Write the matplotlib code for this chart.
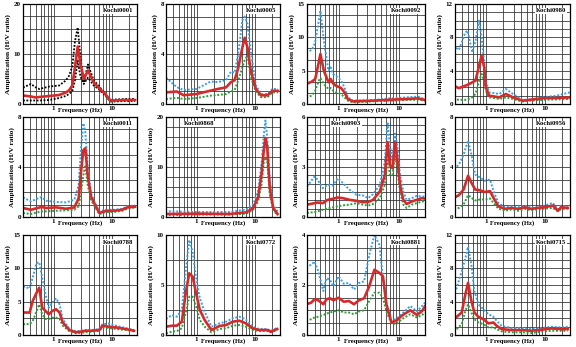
""" H/V spectral ratio panels for twelve Kochi stations (mean and +/- one std). """
import matplotlib
matplotlib.use('Agg')
import matplotlib.pyplot as plt
from matplotlib.ticker import FixedLocator, NullFormatter, LogLocator
import numpy as np

plt.rcParams['font.family'] = ['Liberation Serif', 'DejaVu Serif']
plt.rcParams['font.weight'] = 'bold'

# ---- data (frequency in Hz, amplification) ----
freq_0001 = [0.3, 0.41, 0.5, 0.57, 0.85, 1.25, 1.62, 1.84, 2.1, 2.33, 2.6, 2.9, 3.3, 3.9, 4.9, 5.9, 7.7, 9.4, 11.4, 17, 25]
mean_0001 = [1.7, 1.5, 1.3, 1.4, 1.6, 1.8, 2.3, 2.7, 3.7, 7.3, 11.5, 8.0, 5.0, 6.7, 4.3, 3.3, 2.0, 0.7, 0.7, 0.8, 0.8]
upper_0001 = [3.3, 4.0, 3.3, 3.0, 3.5, 3.7, 4.7, 5.6, 7.5, 12.5, 15.3, 9.3, 4.3, 7.9, 4.7, 3.7, 2.0, 0.8, 0.9, 1.0, 1.0]
lower_0001 = [0.7, 0.7, 0.7, 0.7, 0.8, 1.2, 1.6, 2.0, 2.6, 4.7, 8.7, 5.5, 4.0, 5.3, 3.7, 3.0, 1.7, 0.5, 0.5, 0.6, 0.6]

freq_0005 = [0.3, 0.46, 0.6, 1.0, 1.75, 2.3, 3.2, 3.9, 4.5, 5.2, 6.1, 6.7, 7.5, 8.5, 10.4, 12.7, 16.5, 20, 25]
mean_0005 = [0.93, 1.0, 0.7, 0.8, 1.07, 1.2, 1.33, 1.75, 1.9, 2.9, 4.5, 5.3, 4.5, 2.7, 1.2, 0.7, 0.7, 1.05, 1.05]
upper_0005 = [2.1, 1.35, 1.12, 1.2, 1.8, 1.75, 1.9, 2.6, 2.5, 4.0, 6.7, 7.0, 6.4, 4.3, 1.5, 0.8, 0.8, 1.2, 1.2]
lower_0005 = [0.4, 0.5, 0.4, 0.48, 0.67, 0.72, 0.8, 1.0, 1.12, 1.9, 2.9, 3.5, 3.9, 2.2, 1.0, 0.55, 0.55, 0.93, 0.93]

freq_0092 = [0.29, 0.36, 0.41, 0.47, 0.5, 0.57, 0.68, 0.74, 0.81, 0.9, 1.1, 1.25, 1.42, 1.73, 3.8, 7.2, 13.8, 20.5, 27]
mean_0092 = [3.0, 3.35, 3.75, 6.25, 7.5, 5.0, 3.25, 3.75, 3.1, 2.75, 2.4, 1.75, 0.75, 0.4, 0.5, 0.65, 0.75, 0.85, 0.6]
upper_0092 = [7.75, 8.1, 9.25, 12.5, 14.0, 9.5, 5.0, 5.5, 4.5, 4.25, 3.5, 2.5, 1.0, 0.5, 0.6, 0.85, 1.0, 1.1, 0.7]
lower_0092 = [1.0, 1.25, 2.0, 3.5, 3.9, 3.0, 2.25, 2.4, 2.0, 1.75, 1.5, 1.0, 0.5, 0.25, 0.4, 0.5, 0.6, 0.65, 0.5]

freq_0980 = [0.28, 0.35, 0.45, 0.49, 0.59, 0.67, 0.77, 0.85, 0.94, 1.0, 1.14, 1.7, 2.2, 2.9, 4.2, 5.5, 9.4, 16, 27]
mean_0980 = [2.2, 1.9, 2.2, 2.3, 2.6, 2.8, 4.6, 5.8, 4.4, 2.0, 1.0, 0.8, 1.2, 0.8, 0.4, 0.5, 0.7, 0.72, 0.8]
upper_0980 = [7.0, 6.5, 8.6, 8.8, 6.2, 7.6, 10.0, 8.0, 5.0, 2.8, 1.4, 1.2, 1.8, 1.2, 0.5, 0.5, 0.8, 1.0, 1.4]
lower_0980 = [0.6, 0.5, 0.5, 0.55, 0.8, 1.2, 2.8, 3.6, 2.8, 1.6, 0.8, 0.6, 0.8, 0.6, 0.3, 0.4, 0.5, 0.55, 0.6]

freq_0011 = [0.3, 0.41, 0.62, 0.75, 1.11, 1.64, 2.28, 2.7, 2.96, 3.25, 3.51, 3.85, 4.39, 5.0, 6.1, 7.9, 11, 15, 18.5, 25]
mean_0011 = [0.72, 0.58, 0.8, 0.72, 0.77, 0.66, 0.77, 1.5, 3.6, 5.35, 5.5, 3.36, 1.64, 1.1, 0.32, 0.5, 0.5, 0.58, 0.77, 0.82]
upper_0011 = [1.56, 1.25, 1.6, 1.3, 1.2, 1.17, 1.38, 2.57, 5.5, 7.5, 6.8, 4.16, 1.9, 1.25, 0.45, 0.58, 0.58, 0.66, 0.85, 0.93]
lower_0011 = [0.32, 0.24, 0.45, 0.45, 0.5, 0.53, 0.58, 0.85, 2.0, 3.36, 4.16, 2.57, 1.38, 0.9, 0.24, 0.4, 0.4, 0.5, 0.66, 0.77]

freq_0868 = [0.29, 1.0, 3.7, 7.2, 9.4, 11.4, 13.0, 14.3, 15.2, 16.3, 18.0, 20.6, 24.5]
mean_0868 = [0.6, 0.67, 0.6, 0.94, 1.8, 4.0, 8.5, 13.6, 15.8, 14.0, 5.9, 1.8, 0.6]
upper_0868 = [1.15, 1.0, 1.0, 1.5, 2.5, 5.2, 10.6, 16.6, 19.3, 16.0, 7.2, 2.5, 1.15]
lower_0868 = [0.34, 0.47, 0.47, 0.67, 1.5, 3.2, 6.5, 11.2, 11.9, 11.2, 4.5, 1.5, 0.34]

freq_0903 = [0.3, 0.4, 0.45, 0.55, 0.66, 0.8, 0.97, 1.18, 1.52, 1.97, 2.54, 3.08, 3.73, 4.82, 5.84, 6.47,
             7.08, 7.84, 8.58, 9.38, 10.4, 11.8, 13.4, 16.3, 19.7, 23.9, 27]
mean_0903 = [0.74, 0.83, 0.87, 0.83, 1.03, 1.09, 1.17, 1.13, 1.03, 0.97, 0.89, 0.89, 1.03, 1.53, 2.52, 4.5,
             3.12, 2.92, 4.5, 3.52, 1.93, 1.03, 0.78, 0.93, 1.03, 1.13, 1.1]
upper_0903 = [1.83, 2.43, 2.23, 1.73, 1.93, 1.89, 2.33, 2.03, 1.63, 1.33, 1.29, 1.13, 1.37, 1.93, 3.32, 5.7,
              4.3, 3.32, 5.0, 4.3, 2.5, 1.53, 1.03, 1.13, 1.27, 1.23, 1.23]
lower_0903 = [0.24, 0.3, 0.34, 0.44, 0.5, 0.58, 0.64, 0.7, 0.74, 0.83, 0.74, 0.68, 0.78, 1.13, 1.93, 3.52,
              2.52, 2.52, 3.72, 2.92, 1.53, 0.74, 0.54, 0.74, 0.83, 0.93, 0.95]

freq_0956 = [0.29, 0.35, 0.42, 0.5, 0.57, 0.66, 0.8, 0.97, 1.18, 1.35, 1.63, 2.12, 2.74, 3.55, 4.6, 5.96,
             7.7, 10, 13.8, 16.8, 19.1, 24.7]
mean_0956 = [1.54, 1.75, 2.2, 3.3, 2.75, 2.2, 2.13, 2.0, 2.07, 1.54, 0.86, 0.65, 0.73, 0.65, 0.78, 0.65,
             0.73, 0.78, 0.92, 0.5, 0.78, 0.73]
upper_0956 = [3.83, 4.2, 5.0, 6.1, 5.0, 3.4, 3.15, 2.9, 3.0, 2.1, 1.13, 0.78, 0.86, 0.78, 0.92, 0.73,
              0.78, 0.92, 1.13, 0.6, 0.92, 0.8]
lower_0956 = [0.6, 0.73, 1.0, 1.75, 1.54, 1.32, 1.4, 1.4, 1.48, 1.13, 0.67, 0.5, 0.6, 0.5, 0.65, 0.54,
              0.62, 0.67, 0.73, 0.46, 0.65, 0.65]

freq_0788 = [0.3, 0.39, 0.44, 0.51, 0.57, 0.64, 0.73, 0.83, 0.95, 1.11, 1.27, 1.44, 1.87, 2.43, 3.6, 4.68,
             6.08, 6.93, 9.0, 11.7, 17.3, 24]
mean_0788 = [3.37, 3.37, 5.1, 6.3, 7.1, 4.1, 3.6, 3.1, 3.6, 3.86, 3.37, 1.88, 0.75, 0.4, 0.64, 0.64,
             0.75, 1.4, 1.24, 1.14, 0.9, 0.64]
upper_0788 = [7.3, 7.0, 8.6, 10.8, 10.9, 8.6, 6.1, 4.1, 4.85, 5.5, 4.6, 2.4, 0.9, 0.55, 0.75, 0.75,
              0.9, 1.63, 1.73, 1.4, 1.04, 0.75]
lower_0788 = [1.63, 1.63, 2.1, 3.5, 4.6, 3.1, 2.4, 2.4, 2.6, 2.6, 2.4, 1.4, 0.55, 0.25, 0.4, 0.5,
              0.64, 1.14, 1.04, 0.9, 0.75, 0.55]

freq_0772 = [0.3, 0.38, 0.46, 0.56, 0.66, 0.75, 0.86, 0.97, 1.14, 1.38, 1.8, 2.48, 3.22, 4.18, 5.43, 7.0,
             9.1, 11.8, 16.4, 18.7, 24.2]
mean_0772 = [0.83, 0.93, 0.93, 1.33, 4.33, 6.17, 5.83, 4.33, 2.5, 1.5, 0.5, 0.9, 1.0, 1.33, 1.43, 1.17,
             0.67, 0.5, 0.5, 0.33, 0.6]
upper_0772 = [1.6, 2.0, 1.83, 2.5, 6.67, 9.5, 8.3, 6.0, 3.67, 2.33, 0.83, 1.17, 1.33, 1.67, 1.83, 1.57,
              0.83, 0.6, 0.6, 0.4, 0.73]
lower_0772 = [0.17, 0.33, 0.4, 0.67, 2.33, 3.83, 3.83, 3.0, 1.5, 0.83, 0.27, 0.6, 0.67, 0.93, 1.0, 0.83,
              0.5, 0.4, 0.4, 0.27, 0.5]

freq_0881 = [0.29, 0.35, 0.4, 0.46, 0.56, 0.63, 0.72, 0.82, 1.0, 1.22, 1.48, 1.8, 2.18, 2.65, 3.22, 3.92,
             4.76, 5.43, 6.18, 7.5, 9.1, 11.1, 15.4, 19.9, 24.2, 27]
mean_0881 = [1.23, 1.29, 1.43, 1.39, 1.23, 1.43, 1.47, 1.39, 1.49, 1.33, 1.36, 1.23, 1.39, 1.47, 1.95, 2.61,
             2.48, 2.35, 1.23, 0.5, 0.57, 0.77, 0.99, 0.8, 0.96, 1.15]
upper_0881 = [2.7, 2.81, 2.94, 2.55, 1.76, 2.28, 2.2, 1.95, 2.35, 2.05, 2.08, 1.82, 2.08, 2.15, 3.2, 4.0,
              3.6, 2.28, 1.3, 0.57, 0.66, 0.83, 1.16, 0.94, 1.16, 1.3]
lower_0881 = [0.57, 0.63, 0.7, 0.73, 0.8, 0.86, 0.9, 0.94, 0.99, 0.9, 0.9, 0.83, 0.94, 0.99, 1.36, 1.69,
              1.69, 1.49, 0.96, 0.46, 0.44, 0.63, 0.83, 0.7, 0.8, 0.9]

freq_0715 = [0.28, 0.32, 0.39, 0.45, 0.5, 0.57, 0.64, 0.75, 0.91, 1.11, 1.35, 1.53, 1.86, 2.74, 4.04, 5.96,
             8.8, 12.9, 19.1, 24.7]
mean_0715 = [1.9, 2.18, 2.7, 4.87, 6.26, 4.08, 2.7, 2.18, 1.9, 1.39, 1.5, 1.1, 0.71, 0.59, 0.59, 0.51,
             0.63, 0.79, 0.71, 0.71]
upper_0715 = [4.67, 5.66, 7.64, 9.2, 10.6, 8.4, 5.27, 3.68, 3.09, 2.5, 2.18, 1.7, 1.1, 0.83, 0.83, 0.71,
              0.83, 0.99, 0.91, 0.99]
lower_0715 = [0.51, 0.71, 1.3, 2.9, 3.68, 2.7, 1.9, 1.5, 1.3, 0.91, 0.91, 0.71, 0.44, 0.32, 0.32, 0.24,
              0.4, 0.51, 0.51, 0.51]

stations = ['0001', '0005', '0092', '0980',
            '0011', '0868', '0903', '0956',
            '0788', '0772', '0881', '0715']
series = {
    '0001': (freq_0001, mean_0001, upper_0001, lower_0001),
    '0005': (freq_0005, mean_0005, upper_0005, lower_0005),
    '0092': (freq_0092, mean_0092, upper_0092, lower_0092),
    '0980': (freq_0980, mean_0980, upper_0980, lower_0980),
    '0011': (freq_0011, mean_0011, upper_0011, lower_0011),
    '0868': (freq_0868, mean_0868, upper_0868, lower_0868),
    '0903': (freq_0903, mean_0903, upper_0903, lower_0903),
    '0956': (freq_0956, mean_0956, upper_0956, lower_0956),
    '0788': (freq_0788, mean_0788, upper_0788, lower_0788),
    '0772': (freq_0772, mean_0772, upper_0772, lower_0772),
    '0881': (freq_0881, mean_0881, upper_0881, lower_0881),
    '0715': (freq_0715, mean_0715, upper_0715, lower_0715),
}
# y axis: (max, labelled step, grid step)
y_axes = {
    '0001': (20, 10, 2.5), '0005': (8, 4, 1), '0092': (15, 5, 5 / 3), '0980': (12, 4, 1),
    '0011': (8, 4, 1), '0868': (20, 10, 2), '0903': (6, 3, 0.5), '0956': (8, 4, 1),
    '0788': (15, 5, 2.5), '0772': (10, 5, 2.5), '0881': (4, 2, 0.5), '0715': (12, 4, 1),
}
# station label horizontal position (axes fraction, right edge unless noted)
label_x = {'0868': 0.29, '0903': 0.33}

RED = '#d42a2a'
BLUE = '#3a9ee0'
GREEN = '#2f9a3c'
DOTS = (0, (1, 0.9))

W, H = 576, 347
col_left = [23, 166, 307, 455]
col_width = [114, 114, 118, 115]
row_top = [4, 117, 235]
panel_h = 100


def main():
    fig = plt.figure(figsize=(W / 100, H / 100), dpi=100)

    for i, st in enumerate(stations):
        r, c = divmod(i, 4)
        rect = [col_left[c] / W, 1 - (row_top[r] + panel_h) / H, col_width[c] / W, panel_h / H]
        ax = fig.add_axes(rect)
        f, m, up, lo = series[st]

        if st == '0001':
            ax.plot(f, up, linestyle=DOTS, color='black', lw=1.3)
            ax.plot(f, lo, linestyle=DOTS, color='black', lw=1.3)
        else:
            ax.plot(f, up, linestyle=DOTS, color=BLUE, lw=1.4)
            ax.plot(f, lo, linestyle=DOTS, color=GREEN, lw=1.4)
        ax.plot(f, m, '-', color=RED, lw=1.9)

        ax.set_xscale('log')
        ax.set_xlim(0.3, 27)
        ymax, ystep, ygrid = y_axes[st]
        ax.set_ylim(0, ymax)

        ax.xaxis.set_major_locator(FixedLocator([1, 10]))
        ax.xaxis.set_minor_locator(LogLocator(base=10, subs=np.arange(2, 10)))
        ax.xaxis.set_minor_formatter(NullFormatter())
        ax.set_xticklabels(['1', '10'])
        ax.yaxis.set_major_locator(FixedLocator(np.arange(0, ymax + 0.01, ystep)))
        ax.yaxis.set_minor_locator(FixedLocator(np.linspace(0, ymax, int(round(ymax / ygrid)) + 1)))
        ax.set_yticklabels([f'{v:g}' for v in np.arange(0, ymax + 0.01, ystep)])

        ax.grid(which='both', color='#2a2a2a', lw=0.55)
        ax.tick_params(which='both', length=0, pad=1.5, labelsize=5)
        for sp in ax.spines.values():
            sp.set_linewidth(0.9)

        ax.text(0.5, -0.035, 'Frequency (Hz)', transform=ax.transAxes,
                ha='center', va='top', fontsize=4.8, fontweight='bold')
        ax.set_ylabel('Amplification (H/V ratio)', fontsize=5.3, fontweight='bold', labelpad=2)

        lx = label_x.get(st)
        if lx is None:
            ax.text(0.965, 0.955, f'Kochi{st}', transform=ax.transAxes, ha='right', va='top',
                    fontsize=4.8, fontweight='bold',
                    bbox=dict(facecolor='white', edgecolor='none', pad=0.6))
        else:
            ax.text(lx, 0.955, f'Kochi{st}', transform=ax.transAxes, ha='center', va='top',
                    fontsize=4.8, fontweight='bold',
                    bbox=dict(facecolor='white', edgecolor='none', pad=0.6))

    fig.savefig('out.png', dpi=100)


if __name__ == '__main__':
    main()
